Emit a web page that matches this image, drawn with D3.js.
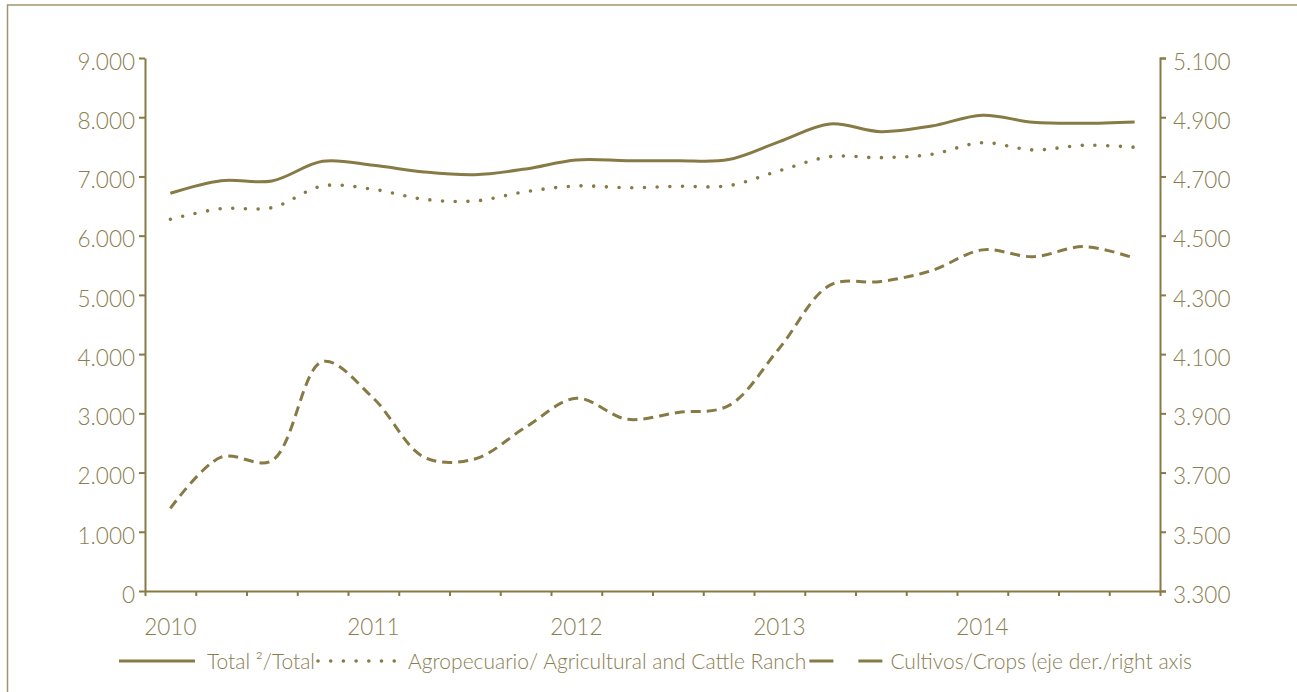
<!DOCTYPE html>
<html>
<head>
<meta charset="utf-8">
<script src="https://cdn.jsdelivr.net/npm/d3@7/dist/d3.min.js"></script>
<style>
  html, body { margin: 0; padding: 0; background: #ffffff; }
  svg { display: block; }
  .lbl { font-family: "Lato", "Open Sans", sans-serif; font-weight: 300; fill: #8a7e50; }
</style>
</head>
<body>
<svg id="chart" width="1297" height="692"></svg>
<script>
// Quarterly periods 2010–2014
const quarters = [
  "2010-T1","2010-T2","2010-T3","2010-T4",
  "2011-T1","2011-T2","2011-T3","2011-T4",
  "2012-T1","2012-T2","2012-T3","2012-T4",
  "2013-T1","2013-T2","2013-T3","2013-T4",
  "2014-T1","2014-T2","2014-T3","2014-T4"
];
const yearLabels = ["2010", "2011", "2012", "2013", "2014"];

// Total (left axis)
const totalValues = [6716, 6929, 6924, 7256, 7188, 7075, 7030, 7126,
                     7278, 7266, 7266, 7285, 7588, 7886, 7756, 7852,
                     8033, 7914, 7897, 7920];
// Agropecuario / Agricultural and Cattle Ranch (left axis)
const agroValues = [6276, 6456, 6473, 6839, 6783, 6614, 6586, 6743,
                    6839, 6810, 6833, 6844, 7097, 7334, 7317, 7374,
                    7570, 7447, 7526, 7493];
// Cultivos / Crops (right axis)
const cropValues = [3579, 3752, 3740, 4075, 3951, 3752, 3746, 3853,
                    3951, 3880, 3903, 3926, 4120, 4333, 4345, 4382,
                    4452, 4429, 4463, 4424];

const leftTicks = [0, 1000, 2000, 3000, 4000, 5000, 6000, 7000, 8000, 9000];
const rightTicks = [3300, 3500, 3700, 3900, 4100, 4300, 4500, 4700, 4900, 5100];

const legendLabels = [
  "Total \u00B2/Total",
  "Agropecuario/ Agricultural and Cattle Ranch",
  "Cultivos/Crops (eje der./right axis"
];

const ink = "#877a45";
const frameInk = "#a0966e";
const fontSize = 22.5;
const legendFontSize = 21;

const svg = d3.select("#chart");
const margin = { left: 145, right: 137, top: 58, bottom: 101 };
const W = 1297, H = 692;
const x0 = margin.left, x1 = W - margin.right;
const y0 = H - margin.bottom, y1 = margin.top;

const locale = d3.formatLocale({ decimal: ",", thousands: ".", grouping: [3], currency: ["", ""] });
const fmt = locale.format(",.0f");

// outer frame
svg.append("rect")
  .attr("x", 7.5).attr("y", 5)
  .attr("width", W + 20).attr("height", H + 20)
  .attr("fill", "none").attr("stroke", frameInk).attr("stroke-width", 1.5);

const x = d3.scaleBand().domain(quarters).range([x0, x1]).padding(0);
const xc = d => x(d) + x.bandwidth() / 2;
const yL = d3.scaleLinear().domain([0, 9000]).range([y0, y1]);
const yR = d3.scaleLinear().domain([3300, 5100]).range([y0, y1]);

function styleAxis(g) {
  g.selectAll("path.domain").attr("stroke", ink).attr("stroke-width", 2);
  g.selectAll(".tick line").attr("stroke", ink).attr("stroke-width", 2);
  g.selectAll(".tick text")
    .attr("class", "lbl")
    .style("font-size", fontSize + "px");
}

// left axis
const gL = svg.append("g").attr("transform", `translate(${x0},0)`)
  .call(d3.axisLeft(yL).tickValues(leftTicks).tickFormat(fmt)
    .tickSizeInner(6).tickSizeOuter(0).tickPadding(4));
styleAxis(gL);
gL.selectAll(".tick text").attr("dy", "0.5em");

// right axis
const gR = svg.append("g").attr("transform", `translate(${x1},0)`)
  .call(d3.axisRight(yR).tickValues(rightTicks).tickFormat(fmt)
    .tickSizeInner(6).tickSizeOuter(6).tickPadding(7));
styleAxis(gR);
gR.selectAll(".tick text").attr("dy", "0.5em");

// bottom axis: ticks on the quarter boundaries
const edges = d3.range(quarters.length + 1);
const xEdge = d3.scaleLinear().domain([0, quarters.length]).range([x0, x1]);
const gB = svg.append("g").attr("transform", `translate(0,${y0})`)
  .call(d3.axisBottom(xEdge).tickValues(edges).tickFormat("")
    .tickSizeInner(5).tickSizeOuter(0));
styleAxis(gB);

// year labels centred on each first quarter
svg.append("g").selectAll("text")
  .data(yearLabels)
  .join("text")
  .attr("class", "lbl")
  .style("font-size", fontSize + "px")
  .attr("text-anchor", "middle")
  .attr("x", (d, i) => xc(quarters[i * 4]))
  .attr("y", y0 + 44)
  .text(d => d);

const curve = d3.curveCatmullRom.alpha(0.5);

const lineL = d3.line().x((d, i) => xc(quarters[i])).y(d => yL(d)).curve(curve);
const lineR = d3.line().x((d, i) => xc(quarters[i])).y(d => yR(d)).curve(curve);

const series = [
  { values: totalValues, line: lineL, dash: null, width: 3, cap: "butt" },
  { values: agroValues, line: lineL, dash: "0,12.7", width: 3.6, cap: "round" },
  { values: cropValues, line: lineR, dash: "10,6", width: 3, cap: "butt" }
];

svg.append("g").selectAll("path")
  .data(series)
  .join("path")
  .attr("d", s => s.line(s.values))
  .attr("fill", "none")
  .attr("stroke", ink)
  .attr("stroke-width", s => s.width)
  .attr("stroke-linecap", s => s.cap)
  .attr("stroke-dasharray", s => s.dash);

// legend
const legend = svg.append("g").attr("transform", `translate(119,${H - 31})`);
const legendDash = [null, "0,12.7", "24,25"];
const symLen = [76, 78, 74];
const symGap = [12, 12, 7];
let cx = 0;
legendLabels.forEach((label, i) => {
  legend.append("line")
    .attr("x1", cx).attr("x2", cx + symLen[i])
    .attr("y1", 0).attr("y2", 0)
    .attr("stroke", ink)
    .attr("stroke-width", i === 1 ? 3.6 : 3)
    .attr("stroke-linecap", i === 1 ? "round" : "butt")
    .attr("stroke-dasharray", legendDash[i]);
  cx += symLen[i] + symGap[i];
  const t = legend.append("text")
    .attr("class", "lbl")
    .style("font-size", legendFontSize + "px")
    .attr("x", cx).attr("y", 7.5)
    .text(label);
  cx += t.node().getComputedTextLength() + 3;
});
</script>
</body>
</html>
